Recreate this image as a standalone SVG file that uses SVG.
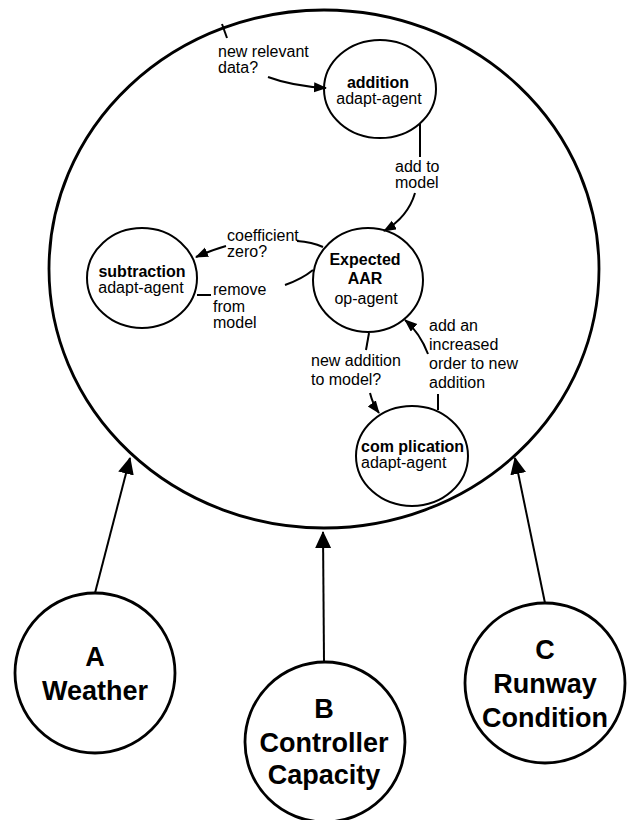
<svg xmlns="http://www.w3.org/2000/svg" width="629" height="820" viewBox="0 0 629 820">
<defs>
<style>
text{font-family:"Liberation Sans",Arial,sans-serif;fill:#000}
.n{font-size:16px;text-anchor:middle}
.b{font-weight:bold}
.l{font-size:16px}
.big{font-size:27px;font-weight:bold;text-anchor:middle}
.node{fill:#fff;stroke:#000;stroke-width:2}
.outer{fill:#fff;stroke:#000;stroke-width:2.8}
.c{fill:none;stroke:#000;stroke-width:2}
.ca{fill:none;stroke:#000;stroke-width:2;marker-end:url(#ah)}
.oa{fill:none;stroke:#000;stroke-width:2;marker-end:url(#ahb)}
</style>
<marker id="ah" markerUnits="userSpaceOnUse" markerWidth="13" markerHeight="11" refX="12" refY="5" orient="auto">
<path d="M0,0 L13,5 L0,10 z" fill="#000"/>
</marker>
<marker id="ahb" markerUnits="userSpaceOnUse" markerWidth="17" markerHeight="16" refX="16" refY="8" orient="auto">
<path d="M0,0 L17,8 L0,16 z" fill="#000"/>
</marker>
</defs>
<rect width="629" height="820" fill="#fff"/>

<g id="system">
<ellipse class="outer" cx="324" cy="269" rx="275" ry="259"/>
</g>

<g id="addition">
<ellipse class="node" cx="380" cy="89" rx="56" ry="49"/>
<text class="n b" x="378" y="88">addition</text>
<text class="n" x="379" y="104">adapt-agent</text>
</g>

<g id="subtraction">
<ellipse class="node" cx="142" cy="278" rx="55" ry="50"/>
<text class="n b" x="142" y="277">subtraction</text>
<text class="n" x="141" y="293">adapt-agent</text>
</g>

<g id="expected-aar">
<ellipse class="node" cx="368" cy="280" rx="55" ry="52"/>
<text class="n b" x="365" y="265">Expected</text>
<text class="n b" x="365" y="284">AAR</text>
<text class="n" x="366" y="304">op-agent</text>
</g>

<g id="complication">
<ellipse class="node" cx="412" cy="456" rx="56" ry="50"/>
<text class="l b" x="361" y="452">com plication</text>
<text class="l" x="361" y="468">adapt-agent</text>
</g>

<g id="weather">
<circle class="outer" cx="95" cy="673" r="80"/>
<text class="big" x="95" y="666">A</text>
<text class="big" x="95" y="700">Weather</text>
</g>

<g id="controller">
<circle class="outer" cx="325" cy="742" r="80"/>
<text class="big" x="324" y="718">B</text>
<text class="big" x="324" y="752">Controller</text>
<text class="big" x="324" y="784">Capacity</text>
</g>

<g id="runway">
<circle class="outer" cx="545" cy="683" r="80"/>
<text class="big" x="545" y="659">C</text>
<text class="big" x="545" y="693">Runway</text>
<text class="big" x="545" y="727">Condition</text>
</g>

<g id="connectors">
<path class="c" d="M222,24 L227,38"/>
<path class="ca" d="M268,77 Q292,86 326,88"/>
<path class="c" d="M420,124 L420,157"/>
<path class="ca" d="M415,193 Q408,217 384,231"/>
<path class="c" d="M323,247 Q312,242 297,241"/>
<path class="ca" d="M226,246 Q212,250 196,257"/>
<path class="c" d="M197,295 L211,295"/>
<path class="c" d="M285,285 Q302,279 313,270"/>
<path class="c" d="M369,333 L366,350"/>
<path class="ca" d="M370,393 Q373,405 379,413"/>
<path class="c" d="M438,410 L438,394"/>
<path class="ca" d="M428,354 Q420,333 405,320"/>
<path class="oa" d="M95,593 L130,458"/>
<path class="oa" d="M324,662 L323,532"/>
<path class="oa" d="M545,603 L515,458"/>
</g>

<g id="labels">
<text class="l" x="218" y="57">new relevant</text>
<text class="l" x="218" y="73">data?</text>
<text class="l" x="395" y="172">add to</text>
<text class="l" x="395" y="188">model</text>
<text class="l" x="227" y="241">coefficient</text>
<text class="l" x="227" y="257">zero?</text>
<text class="l" x="213" y="295">remove</text>
<text class="l" x="213" y="312">from</text>
<text class="l" x="213" y="328">model</text>
<text class="l" x="311" y="366">new addition</text>
<text class="l" x="311" y="385">to model?</text>
<text class="l" x="429" y="331">add an</text>
<text class="l" x="429" y="350">increased</text>
<text class="l" x="429" y="369">order to new</text>
<text class="l" x="429" y="388">addition</text>
</g>
</svg>
